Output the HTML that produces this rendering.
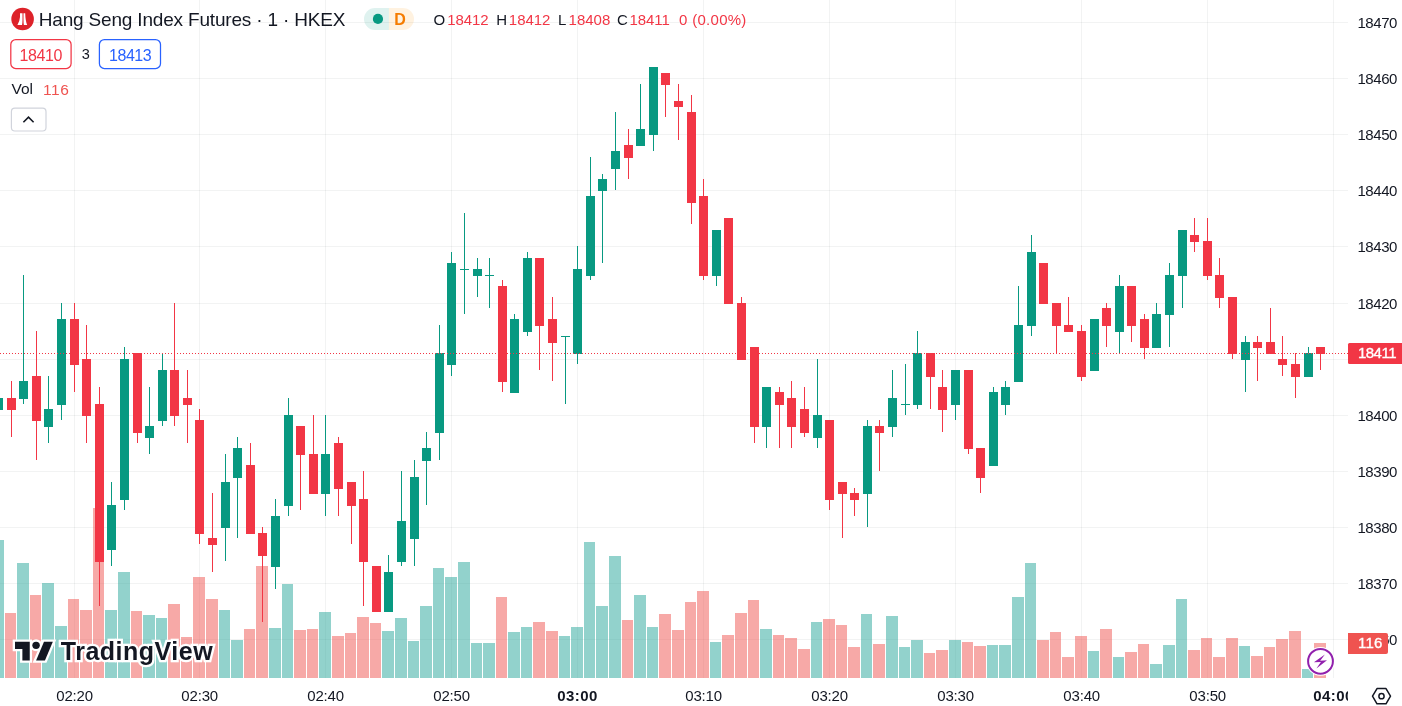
<!DOCTYPE html>
<html><head><meta charset="utf-8"><title>Hang Seng Index Futures</title>
<style>
html,body{margin:0;padding:0;background:#fff}
body{width:1402px;height:706px;position:relative;overflow:hidden;font-family:"Liberation Sans",sans-serif;color:#131722}
.t{position:absolute;white-space:nowrap;line-height:1}
</style></head><body>
<svg width="1402" height="706" viewBox="0 0 1402 706" style="position:absolute;left:0;top:0">
<g shape-rendering="crispEdges" fill="rgba(30,46,46,0.058)">
<rect x="0" y="639" width="1348" height="1"/>
<rect x="0" y="583" width="1348" height="1"/>
<rect x="0" y="527" width="1348" height="1"/>
<rect x="0" y="471" width="1348" height="1"/>
<rect x="0" y="415" width="1348" height="1"/>
<rect x="0" y="359" width="1348" height="1"/>
<rect x="0" y="303" width="1348" height="1"/>
<rect x="0" y="246" width="1348" height="1"/>
<rect x="0" y="190" width="1348" height="1"/>
<rect x="0" y="134" width="1348" height="1"/>
<rect x="0" y="78" width="1348" height="1"/>
<rect x="0" y="22" width="1348" height="1"/>
<rect x="74" y="0" width="1" height="678"/>
<rect x="199" y="0" width="1" height="678"/>
<rect x="325" y="0" width="1" height="678"/>
<rect x="451" y="0" width="1" height="678"/>
<rect x="577" y="0" width="1" height="678"/>
<rect x="703" y="0" width="1" height="678"/>
<rect x="829" y="0" width="1" height="678"/>
<rect x="955" y="0" width="1" height="678"/>
<rect x="1081" y="0" width="1" height="678"/>
<rect x="1207" y="0" width="1" height="678"/>
<rect x="1333" y="0" width="1" height="678"/>
</g>
<g shape-rendering="crispEdges">
<rect x="0" y="540" width="4" height="138" fill="rgba(38,166,154,0.5)"/>
<rect x="5" y="613" width="11" height="65" fill="rgba(239,83,80,0.5)"/>
<rect x="17" y="563" width="12" height="115" fill="rgba(38,166,154,0.5)"/>
<rect x="30" y="595" width="11" height="83" fill="rgba(239,83,80,0.5)"/>
<rect x="42" y="583" width="12" height="95" fill="rgba(38,166,154,0.5)"/>
<rect x="55" y="626" width="12" height="52" fill="rgba(38,166,154,0.5)"/>
<rect x="68" y="599" width="11" height="79" fill="rgba(239,83,80,0.5)"/>
<rect x="80" y="610" width="12" height="68" fill="rgba(239,83,80,0.5)"/>
<rect x="93" y="508" width="11" height="170" fill="rgba(239,83,80,0.5)"/>
<rect x="105" y="610" width="12" height="68" fill="rgba(38,166,154,0.5)"/>
<rect x="118" y="572" width="12" height="106" fill="rgba(38,166,154,0.5)"/>
<rect x="131" y="611" width="11" height="67" fill="rgba(239,83,80,0.5)"/>
<rect x="143" y="615" width="12" height="63" fill="rgba(38,166,154,0.5)"/>
<rect x="156" y="618" width="11" height="60" fill="rgba(38,166,154,0.5)"/>
<rect x="168" y="604" width="12" height="74" fill="rgba(239,83,80,0.5)"/>
<rect x="181" y="637" width="11" height="41" fill="rgba(239,83,80,0.5)"/>
<rect x="193" y="577" width="12" height="101" fill="rgba(239,83,80,0.5)"/>
<rect x="206" y="599" width="12" height="79" fill="rgba(239,83,80,0.5)"/>
<rect x="219" y="610" width="11" height="68" fill="rgba(38,166,154,0.5)"/>
<rect x="231" y="640" width="12" height="38" fill="rgba(38,166,154,0.5)"/>
<rect x="244" y="629" width="11" height="49" fill="rgba(239,83,80,0.5)"/>
<rect x="256" y="566" width="12" height="112" fill="rgba(239,83,80,0.5)"/>
<rect x="269" y="628" width="12" height="50" fill="rgba(38,166,154,0.5)"/>
<rect x="282" y="584" width="11" height="94" fill="rgba(38,166,154,0.5)"/>
<rect x="294" y="630" width="12" height="48" fill="rgba(239,83,80,0.5)"/>
<rect x="307" y="629" width="11" height="49" fill="rgba(239,83,80,0.5)"/>
<rect x="319" y="612" width="12" height="66" fill="rgba(38,166,154,0.5)"/>
<rect x="332" y="636" width="12" height="42" fill="rgba(239,83,80,0.5)"/>
<rect x="345" y="633" width="11" height="45" fill="rgba(239,83,80,0.5)"/>
<rect x="357" y="617" width="12" height="61" fill="rgba(239,83,80,0.5)"/>
<rect x="370" y="623" width="11" height="55" fill="rgba(239,83,80,0.5)"/>
<rect x="382" y="631" width="12" height="47" fill="rgba(38,166,154,0.5)"/>
<rect x="395" y="618" width="12" height="60" fill="rgba(38,166,154,0.5)"/>
<rect x="408" y="641" width="11" height="37" fill="rgba(38,166,154,0.5)"/>
<rect x="420" y="606" width="12" height="72" fill="rgba(38,166,154,0.5)"/>
<rect x="433" y="568" width="11" height="110" fill="rgba(38,166,154,0.5)"/>
<rect x="445" y="577" width="12" height="101" fill="rgba(38,166,154,0.5)"/>
<rect x="458" y="562" width="12" height="116" fill="rgba(38,166,154,0.5)"/>
<rect x="471" y="643" width="11" height="35" fill="rgba(38,166,154,0.5)"/>
<rect x="483" y="643" width="12" height="35" fill="rgba(38,166,154,0.5)"/>
<rect x="496" y="597" width="11" height="81" fill="rgba(239,83,80,0.5)"/>
<rect x="508" y="632" width="12" height="46" fill="rgba(38,166,154,0.5)"/>
<rect x="521" y="627" width="11" height="51" fill="rgba(38,166,154,0.5)"/>
<rect x="533" y="622" width="12" height="56" fill="rgba(239,83,80,0.5)"/>
<rect x="546" y="631" width="12" height="47" fill="rgba(239,83,80,0.5)"/>
<rect x="559" y="636" width="11" height="42" fill="rgba(38,166,154,0.5)"/>
<rect x="571" y="627" width="12" height="51" fill="rgba(38,166,154,0.5)"/>
<rect x="584" y="542" width="11" height="136" fill="rgba(38,166,154,0.5)"/>
<rect x="596" y="606" width="12" height="72" fill="rgba(38,166,154,0.5)"/>
<rect x="609" y="556" width="12" height="122" fill="rgba(38,166,154,0.5)"/>
<rect x="622" y="620" width="11" height="58" fill="rgba(239,83,80,0.5)"/>
<rect x="634" y="595" width="12" height="83" fill="rgba(38,166,154,0.5)"/>
<rect x="647" y="627" width="11" height="51" fill="rgba(38,166,154,0.5)"/>
<rect x="659" y="614" width="12" height="64" fill="rgba(239,83,80,0.5)"/>
<rect x="672" y="630" width="12" height="48" fill="rgba(239,83,80,0.5)"/>
<rect x="685" y="602" width="11" height="76" fill="rgba(239,83,80,0.5)"/>
<rect x="697" y="591" width="12" height="87" fill="rgba(239,83,80,0.5)"/>
<rect x="710" y="642" width="11" height="36" fill="rgba(38,166,154,0.5)"/>
<rect x="722" y="635" width="12" height="43" fill="rgba(239,83,80,0.5)"/>
<rect x="735" y="613" width="12" height="65" fill="rgba(239,83,80,0.5)"/>
<rect x="748" y="600" width="11" height="78" fill="rgba(239,83,80,0.5)"/>
<rect x="760" y="629" width="12" height="49" fill="rgba(38,166,154,0.5)"/>
<rect x="773" y="635" width="11" height="43" fill="rgba(239,83,80,0.5)"/>
<rect x="785" y="638" width="12" height="40" fill="rgba(239,83,80,0.5)"/>
<rect x="798" y="649" width="12" height="29" fill="rgba(239,83,80,0.5)"/>
<rect x="811" y="622" width="11" height="56" fill="rgba(38,166,154,0.5)"/>
<rect x="823" y="619" width="12" height="59" fill="rgba(239,83,80,0.5)"/>
<rect x="836" y="625" width="11" height="53" fill="rgba(239,83,80,0.5)"/>
<rect x="848" y="647" width="12" height="31" fill="rgba(239,83,80,0.5)"/>
<rect x="861" y="614" width="11" height="64" fill="rgba(38,166,154,0.5)"/>
<rect x="873" y="644" width="12" height="34" fill="rgba(239,83,80,0.5)"/>
<rect x="886" y="616" width="12" height="62" fill="rgba(38,166,154,0.5)"/>
<rect x="899" y="647" width="11" height="31" fill="rgba(38,166,154,0.5)"/>
<rect x="911" y="640" width="12" height="38" fill="rgba(38,166,154,0.5)"/>
<rect x="924" y="653" width="11" height="25" fill="rgba(239,83,80,0.5)"/>
<rect x="936" y="650" width="12" height="28" fill="rgba(239,83,80,0.5)"/>
<rect x="949" y="640" width="12" height="38" fill="rgba(38,166,154,0.5)"/>
<rect x="962" y="642" width="11" height="36" fill="rgba(239,83,80,0.5)"/>
<rect x="974" y="646" width="12" height="32" fill="rgba(239,83,80,0.5)"/>
<rect x="987" y="645" width="11" height="33" fill="rgba(38,166,154,0.5)"/>
<rect x="999" y="645" width="12" height="33" fill="rgba(38,166,154,0.5)"/>
<rect x="1012" y="597" width="12" height="81" fill="rgba(38,166,154,0.5)"/>
<rect x="1025" y="563" width="11" height="115" fill="rgba(38,166,154,0.5)"/>
<rect x="1037" y="640" width="12" height="38" fill="rgba(239,83,80,0.5)"/>
<rect x="1050" y="632" width="11" height="46" fill="rgba(239,83,80,0.5)"/>
<rect x="1062" y="657" width="12" height="21" fill="rgba(239,83,80,0.5)"/>
<rect x="1075" y="636" width="12" height="42" fill="rgba(239,83,80,0.5)"/>
<rect x="1088" y="651" width="11" height="27" fill="rgba(38,166,154,0.5)"/>
<rect x="1100" y="629" width="12" height="49" fill="rgba(239,83,80,0.5)"/>
<rect x="1113" y="657" width="11" height="21" fill="rgba(38,166,154,0.5)"/>
<rect x="1125" y="652" width="12" height="26" fill="rgba(239,83,80,0.5)"/>
<rect x="1138" y="644" width="11" height="34" fill="rgba(239,83,80,0.5)"/>
<rect x="1150" y="664" width="12" height="14" fill="rgba(38,166,154,0.5)"/>
<rect x="1163" y="645" width="12" height="33" fill="rgba(38,166,154,0.5)"/>
<rect x="1176" y="599" width="11" height="79" fill="rgba(38,166,154,0.5)"/>
<rect x="1188" y="650" width="12" height="28" fill="rgba(239,83,80,0.5)"/>
<rect x="1201" y="638" width="11" height="40" fill="rgba(239,83,80,0.5)"/>
<rect x="1213" y="657" width="12" height="21" fill="rgba(239,83,80,0.5)"/>
<rect x="1226" y="638" width="12" height="40" fill="rgba(239,83,80,0.5)"/>
<rect x="1239" y="646" width="11" height="32" fill="rgba(38,166,154,0.5)"/>
<rect x="1251" y="656" width="12" height="22" fill="rgba(239,83,80,0.5)"/>
<rect x="1264" y="647" width="11" height="31" fill="rgba(239,83,80,0.5)"/>
<rect x="1276" y="639" width="12" height="39" fill="rgba(239,83,80,0.5)"/>
<rect x="1289" y="631" width="12" height="47" fill="rgba(239,83,80,0.5)"/>
<rect x="1302" y="669" width="11" height="9" fill="rgba(38,166,154,0.5)"/>
<rect x="1314" y="643" width="12" height="35" fill="rgba(239,83,80,0.5)"/>
</g>
<g shape-rendering="crispEdges">
<rect x="-2" y="398" width="1" height="11" fill="#089981"/>
<rect x="-6" y="398" width="9" height="12" fill="#089981"/>
<rect x="11" y="381" width="1" height="56" fill="#F23645"/>
<rect x="7" y="398" width="9" height="12" fill="#F23645"/>
<rect x="23" y="275" width="1" height="129" fill="#089981"/>
<rect x="19" y="381" width="9" height="18" fill="#089981"/>
<rect x="36" y="331" width="1" height="129" fill="#F23645"/>
<rect x="32" y="376" width="9" height="45" fill="#F23645"/>
<rect x="48" y="376" width="1" height="67" fill="#089981"/>
<rect x="44" y="409" width="9" height="18" fill="#089981"/>
<rect x="61" y="303" width="1" height="117" fill="#089981"/>
<rect x="57" y="319" width="9" height="86" fill="#089981"/>
<rect x="74" y="303" width="1" height="89" fill="#F23645"/>
<rect x="70" y="319" width="9" height="46" fill="#F23645"/>
<rect x="86" y="325" width="1" height="118" fill="#F23645"/>
<rect x="82" y="359" width="9" height="57" fill="#F23645"/>
<rect x="99" y="387" width="1" height="219" fill="#F23645"/>
<rect x="95" y="404" width="9" height="158" fill="#F23645"/>
<rect x="111" y="482" width="1" height="84" fill="#089981"/>
<rect x="107" y="505" width="9" height="45" fill="#089981"/>
<rect x="124" y="347" width="1" height="163" fill="#089981"/>
<rect x="120" y="359" width="9" height="141" fill="#089981"/>
<rect x="137" y="353" width="1" height="90" fill="#F23645"/>
<rect x="133" y="353" width="9" height="80" fill="#F23645"/>
<rect x="149" y="387" width="1" height="67" fill="#089981"/>
<rect x="145" y="426" width="9" height="12" fill="#089981"/>
<rect x="162" y="353" width="1" height="73" fill="#089981"/>
<rect x="158" y="370" width="9" height="51" fill="#089981"/>
<rect x="174" y="303" width="1" height="123" fill="#F23645"/>
<rect x="170" y="370" width="9" height="46" fill="#F23645"/>
<rect x="187" y="370" width="1" height="73" fill="#F23645"/>
<rect x="183" y="398" width="9" height="7" fill="#F23645"/>
<rect x="199" y="409" width="1" height="135" fill="#F23645"/>
<rect x="195" y="420" width="9" height="114" fill="#F23645"/>
<rect x="212" y="493" width="1" height="79" fill="#F23645"/>
<rect x="208" y="538" width="9" height="7" fill="#F23645"/>
<rect x="225" y="454" width="1" height="107" fill="#089981"/>
<rect x="221" y="482" width="9" height="46" fill="#089981"/>
<rect x="237" y="437" width="1" height="101" fill="#089981"/>
<rect x="233" y="448" width="9" height="30" fill="#089981"/>
<rect x="250" y="443" width="1" height="90" fill="#F23645"/>
<rect x="246" y="465" width="9" height="69" fill="#F23645"/>
<rect x="262" y="527" width="1" height="95" fill="#F23645"/>
<rect x="258" y="533" width="9" height="23" fill="#F23645"/>
<rect x="275" y="499" width="1" height="90" fill="#089981"/>
<rect x="271" y="516" width="9" height="51" fill="#089981"/>
<rect x="288" y="398" width="1" height="118" fill="#089981"/>
<rect x="284" y="415" width="9" height="91" fill="#089981"/>
<rect x="300" y="426" width="1" height="84" fill="#F23645"/>
<rect x="296" y="426" width="9" height="29" fill="#F23645"/>
<rect x="313" y="415" width="1" height="78" fill="#F23645"/>
<rect x="309" y="454" width="9" height="40" fill="#F23645"/>
<rect x="325" y="415" width="1" height="101" fill="#089981"/>
<rect x="321" y="454" width="9" height="40" fill="#089981"/>
<rect x="338" y="437" width="1" height="79" fill="#F23645"/>
<rect x="334" y="443" width="9" height="46" fill="#F23645"/>
<rect x="351" y="482" width="1" height="62" fill="#F23645"/>
<rect x="347" y="482" width="9" height="24" fill="#F23645"/>
<rect x="363" y="471" width="1" height="135" fill="#F23645"/>
<rect x="359" y="499" width="9" height="63" fill="#F23645"/>
<rect x="376" y="566" width="1" height="45" fill="#F23645"/>
<rect x="372" y="566" width="9" height="46" fill="#F23645"/>
<rect x="388" y="555" width="1" height="56" fill="#089981"/>
<rect x="384" y="572" width="9" height="40" fill="#089981"/>
<rect x="401" y="471" width="1" height="95" fill="#089981"/>
<rect x="397" y="521" width="9" height="41" fill="#089981"/>
<rect x="414" y="460" width="1" height="106" fill="#089981"/>
<rect x="410" y="477" width="9" height="62" fill="#089981"/>
<rect x="426" y="432" width="1" height="73" fill="#089981"/>
<rect x="422" y="448" width="9" height="13" fill="#089981"/>
<rect x="439" y="325" width="1" height="135" fill="#089981"/>
<rect x="435" y="353" width="9" height="80" fill="#089981"/>
<rect x="451" y="252" width="1" height="124" fill="#089981"/>
<rect x="447" y="263" width="9" height="102" fill="#089981"/>
<rect x="464" y="213" width="1" height="101" fill="#089981"/>
<rect x="460" y="269" width="9" height="1" fill="#089981"/>
<rect x="477" y="258" width="1" height="39" fill="#089981"/>
<rect x="473" y="269" width="9" height="7" fill="#089981"/>
<rect x="489" y="258" width="1" height="50" fill="#089981"/>
<rect x="485" y="275" width="9" height="1" fill="#089981"/>
<rect x="502" y="280" width="1" height="112" fill="#F23645"/>
<rect x="498" y="286" width="9" height="96" fill="#F23645"/>
<rect x="514" y="314" width="1" height="78" fill="#089981"/>
<rect x="510" y="319" width="9" height="74" fill="#089981"/>
<rect x="527" y="252" width="1" height="84" fill="#089981"/>
<rect x="523" y="258" width="9" height="74" fill="#089981"/>
<rect x="539" y="258" width="1" height="112" fill="#F23645"/>
<rect x="535" y="258" width="9" height="68" fill="#F23645"/>
<rect x="552" y="297" width="1" height="84" fill="#F23645"/>
<rect x="548" y="319" width="9" height="24" fill="#F23645"/>
<rect x="565" y="336" width="1" height="68" fill="#089981"/>
<rect x="561" y="336" width="9" height="1" fill="#089981"/>
<rect x="577" y="246" width="1" height="118" fill="#089981"/>
<rect x="573" y="269" width="9" height="85" fill="#089981"/>
<rect x="590" y="157" width="1" height="123" fill="#089981"/>
<rect x="586" y="196" width="9" height="80" fill="#089981"/>
<rect x="602" y="174" width="1" height="89" fill="#089981"/>
<rect x="598" y="179" width="9" height="12" fill="#089981"/>
<rect x="615" y="112" width="1" height="78" fill="#089981"/>
<rect x="611" y="151" width="9" height="18" fill="#089981"/>
<rect x="628" y="129" width="1" height="50" fill="#F23645"/>
<rect x="624" y="145" width="9" height="13" fill="#F23645"/>
<rect x="640" y="84" width="1" height="61" fill="#089981"/>
<rect x="636" y="129" width="9" height="17" fill="#089981"/>
<rect x="653" y="67" width="1" height="84" fill="#089981"/>
<rect x="649" y="67" width="9" height="68" fill="#089981"/>
<rect x="665" y="73" width="1" height="44" fill="#F23645"/>
<rect x="661" y="73" width="9" height="12" fill="#F23645"/>
<rect x="678" y="84" width="1" height="56" fill="#F23645"/>
<rect x="674" y="101" width="9" height="6" fill="#F23645"/>
<rect x="691" y="95" width="1" height="129" fill="#F23645"/>
<rect x="687" y="112" width="9" height="91" fill="#F23645"/>
<rect x="703" y="179" width="1" height="101" fill="#F23645"/>
<rect x="699" y="196" width="9" height="80" fill="#F23645"/>
<rect x="716" y="230" width="1" height="56" fill="#089981"/>
<rect x="712" y="230" width="9" height="46" fill="#089981"/>
<rect x="728" y="218" width="1" height="85" fill="#F23645"/>
<rect x="724" y="218" width="9" height="86" fill="#F23645"/>
<rect x="741" y="297" width="1" height="62" fill="#F23645"/>
<rect x="737" y="303" width="9" height="57" fill="#F23645"/>
<rect x="754" y="347" width="1" height="96" fill="#F23645"/>
<rect x="750" y="347" width="9" height="80" fill="#F23645"/>
<rect x="766" y="387" width="1" height="61" fill="#089981"/>
<rect x="762" y="387" width="9" height="40" fill="#089981"/>
<rect x="779" y="387" width="1" height="61" fill="#F23645"/>
<rect x="775" y="392" width="9" height="13" fill="#F23645"/>
<rect x="791" y="381" width="1" height="67" fill="#F23645"/>
<rect x="787" y="398" width="9" height="29" fill="#F23645"/>
<rect x="804" y="387" width="1" height="50" fill="#F23645"/>
<rect x="800" y="409" width="9" height="24" fill="#F23645"/>
<rect x="817" y="359" width="1" height="89" fill="#089981"/>
<rect x="813" y="415" width="9" height="23" fill="#089981"/>
<rect x="829" y="420" width="1" height="90" fill="#F23645"/>
<rect x="825" y="420" width="9" height="80" fill="#F23645"/>
<rect x="842" y="482" width="1" height="56" fill="#F23645"/>
<rect x="838" y="482" width="9" height="12" fill="#F23645"/>
<rect x="854" y="488" width="1" height="28" fill="#F23645"/>
<rect x="850" y="493" width="9" height="7" fill="#F23645"/>
<rect x="867" y="420" width="1" height="107" fill="#089981"/>
<rect x="863" y="426" width="9" height="68" fill="#089981"/>
<rect x="879" y="420" width="1" height="51" fill="#F23645"/>
<rect x="875" y="426" width="9" height="7" fill="#F23645"/>
<rect x="892" y="370" width="1" height="67" fill="#089981"/>
<rect x="888" y="398" width="9" height="29" fill="#089981"/>
<rect x="905" y="364" width="1" height="51" fill="#089981"/>
<rect x="901" y="404" width="9" height="1" fill="#089981"/>
<rect x="917" y="331" width="1" height="78" fill="#089981"/>
<rect x="913" y="353" width="9" height="52" fill="#089981"/>
<rect x="930" y="353" width="1" height="56" fill="#F23645"/>
<rect x="926" y="353" width="9" height="24" fill="#F23645"/>
<rect x="942" y="370" width="1" height="62" fill="#F23645"/>
<rect x="938" y="387" width="9" height="23" fill="#F23645"/>
<rect x="955" y="370" width="1" height="50" fill="#089981"/>
<rect x="951" y="370" width="9" height="35" fill="#089981"/>
<rect x="968" y="370" width="1" height="84" fill="#F23645"/>
<rect x="964" y="370" width="9" height="79" fill="#F23645"/>
<rect x="980" y="448" width="1" height="45" fill="#F23645"/>
<rect x="976" y="448" width="9" height="30" fill="#F23645"/>
<rect x="993" y="387" width="1" height="78" fill="#089981"/>
<rect x="989" y="392" width="9" height="74" fill="#089981"/>
<rect x="1005" y="381" width="1" height="34" fill="#089981"/>
<rect x="1001" y="387" width="9" height="18" fill="#089981"/>
<rect x="1018" y="286" width="1" height="95" fill="#089981"/>
<rect x="1014" y="325" width="9" height="57" fill="#089981"/>
<rect x="1031" y="235" width="1" height="101" fill="#089981"/>
<rect x="1027" y="252" width="9" height="74" fill="#089981"/>
<rect x="1043" y="263" width="1" height="40" fill="#F23645"/>
<rect x="1039" y="263" width="9" height="41" fill="#F23645"/>
<rect x="1056" y="303" width="1" height="50" fill="#F23645"/>
<rect x="1052" y="303" width="9" height="23" fill="#F23645"/>
<rect x="1068" y="297" width="1" height="34" fill="#F23645"/>
<rect x="1064" y="325" width="9" height="7" fill="#F23645"/>
<rect x="1081" y="325" width="1" height="56" fill="#F23645"/>
<rect x="1077" y="331" width="9" height="46" fill="#F23645"/>
<rect x="1094" y="319" width="1" height="51" fill="#089981"/>
<rect x="1090" y="319" width="9" height="52" fill="#089981"/>
<rect x="1106" y="303" width="1" height="44" fill="#F23645"/>
<rect x="1102" y="308" width="9" height="18" fill="#F23645"/>
<rect x="1119" y="275" width="1" height="78" fill="#089981"/>
<rect x="1115" y="286" width="9" height="46" fill="#089981"/>
<rect x="1131" y="286" width="1" height="56" fill="#F23645"/>
<rect x="1127" y="286" width="9" height="40" fill="#F23645"/>
<rect x="1144" y="314" width="1" height="45" fill="#F23645"/>
<rect x="1140" y="319" width="9" height="29" fill="#F23645"/>
<rect x="1156" y="303" width="1" height="44" fill="#089981"/>
<rect x="1152" y="314" width="9" height="34" fill="#089981"/>
<rect x="1169" y="263" width="1" height="84" fill="#089981"/>
<rect x="1165" y="275" width="9" height="40" fill="#089981"/>
<rect x="1182" y="230" width="1" height="78" fill="#089981"/>
<rect x="1178" y="230" width="9" height="46" fill="#089981"/>
<rect x="1194" y="218" width="1" height="34" fill="#F23645"/>
<rect x="1190" y="235" width="9" height="7" fill="#F23645"/>
<rect x="1207" y="218" width="1" height="62" fill="#F23645"/>
<rect x="1203" y="241" width="9" height="35" fill="#F23645"/>
<rect x="1219" y="258" width="1" height="50" fill="#F23645"/>
<rect x="1215" y="275" width="9" height="23" fill="#F23645"/>
<rect x="1232" y="297" width="1" height="62" fill="#F23645"/>
<rect x="1228" y="297" width="9" height="57" fill="#F23645"/>
<rect x="1245" y="336" width="1" height="56" fill="#089981"/>
<rect x="1241" y="342" width="9" height="18" fill="#089981"/>
<rect x="1257" y="336" width="1" height="45" fill="#F23645"/>
<rect x="1253" y="342" width="9" height="6" fill="#F23645"/>
<rect x="1270" y="308" width="1" height="45" fill="#F23645"/>
<rect x="1266" y="342" width="9" height="12" fill="#F23645"/>
<rect x="1282" y="336" width="1" height="40" fill="#F23645"/>
<rect x="1278" y="359" width="9" height="6" fill="#F23645"/>
<rect x="1295" y="353" width="1" height="45" fill="#F23645"/>
<rect x="1291" y="364" width="9" height="13" fill="#F23645"/>
<rect x="1308" y="347" width="1" height="29" fill="#089981"/>
<rect x="1304" y="353" width="9" height="24" fill="#089981"/>
<rect x="1320" y="347" width="1" height="23" fill="#F23645"/>
<rect x="1316" y="347" width="9" height="7" fill="#F23645"/>
</g>
<g shape-rendering="crispEdges" fill="#F23645">
<rect x="0" y="353" width="1" height="1"/>
<rect x="3" y="353" width="1" height="1"/>
<rect x="6" y="353" width="1" height="1"/>
<rect x="9" y="353" width="1" height="1"/>
<rect x="12" y="353" width="1" height="1"/>
<rect x="15" y="353" width="1" height="1"/>
<rect x="18" y="353" width="1" height="1"/>
<rect x="21" y="353" width="1" height="1"/>
<rect x="24" y="353" width="1" height="1"/>
<rect x="27" y="353" width="1" height="1"/>
<rect x="30" y="353" width="1" height="1"/>
<rect x="33" y="353" width="1" height="1"/>
<rect x="36" y="353" width="1" height="1"/>
<rect x="39" y="353" width="1" height="1"/>
<rect x="42" y="353" width="1" height="1"/>
<rect x="45" y="353" width="1" height="1"/>
<rect x="48" y="353" width="1" height="1"/>
<rect x="51" y="353" width="1" height="1"/>
<rect x="54" y="353" width="1" height="1"/>
<rect x="57" y="353" width="1" height="1"/>
<rect x="60" y="353" width="1" height="1"/>
<rect x="63" y="353" width="1" height="1"/>
<rect x="66" y="353" width="1" height="1"/>
<rect x="69" y="353" width="1" height="1"/>
<rect x="72" y="353" width="1" height="1"/>
<rect x="75" y="353" width="1" height="1"/>
<rect x="78" y="353" width="1" height="1"/>
<rect x="81" y="353" width="1" height="1"/>
<rect x="84" y="353" width="1" height="1"/>
<rect x="87" y="353" width="1" height="1"/>
<rect x="90" y="353" width="1" height="1"/>
<rect x="93" y="353" width="1" height="1"/>
<rect x="96" y="353" width="1" height="1"/>
<rect x="99" y="353" width="1" height="1"/>
<rect x="102" y="353" width="1" height="1"/>
<rect x="105" y="353" width="1" height="1"/>
<rect x="108" y="353" width="1" height="1"/>
<rect x="111" y="353" width="1" height="1"/>
<rect x="114" y="353" width="1" height="1"/>
<rect x="117" y="353" width="1" height="1"/>
<rect x="120" y="353" width="1" height="1"/>
<rect x="123" y="353" width="1" height="1"/>
<rect x="126" y="353" width="1" height="1"/>
<rect x="129" y="353" width="1" height="1"/>
<rect x="132" y="353" width="1" height="1"/>
<rect x="135" y="353" width="1" height="1"/>
<rect x="138" y="353" width="1" height="1"/>
<rect x="141" y="353" width="1" height="1"/>
<rect x="144" y="353" width="1" height="1"/>
<rect x="147" y="353" width="1" height="1"/>
<rect x="150" y="353" width="1" height="1"/>
<rect x="153" y="353" width="1" height="1"/>
<rect x="156" y="353" width="1" height="1"/>
<rect x="159" y="353" width="1" height="1"/>
<rect x="162" y="353" width="1" height="1"/>
<rect x="165" y="353" width="1" height="1"/>
<rect x="168" y="353" width="1" height="1"/>
<rect x="171" y="353" width="1" height="1"/>
<rect x="174" y="353" width="1" height="1"/>
<rect x="177" y="353" width="1" height="1"/>
<rect x="180" y="353" width="1" height="1"/>
<rect x="183" y="353" width="1" height="1"/>
<rect x="186" y="353" width="1" height="1"/>
<rect x="189" y="353" width="1" height="1"/>
<rect x="192" y="353" width="1" height="1"/>
<rect x="195" y="353" width="1" height="1"/>
<rect x="198" y="353" width="1" height="1"/>
<rect x="201" y="353" width="1" height="1"/>
<rect x="204" y="353" width="1" height="1"/>
<rect x="207" y="353" width="1" height="1"/>
<rect x="210" y="353" width="1" height="1"/>
<rect x="213" y="353" width="1" height="1"/>
<rect x="216" y="353" width="1" height="1"/>
<rect x="219" y="353" width="1" height="1"/>
<rect x="222" y="353" width="1" height="1"/>
<rect x="225" y="353" width="1" height="1"/>
<rect x="228" y="353" width="1" height="1"/>
<rect x="231" y="353" width="1" height="1"/>
<rect x="234" y="353" width="1" height="1"/>
<rect x="237" y="353" width="1" height="1"/>
<rect x="240" y="353" width="1" height="1"/>
<rect x="243" y="353" width="1" height="1"/>
<rect x="246" y="353" width="1" height="1"/>
<rect x="249" y="353" width="1" height="1"/>
<rect x="252" y="353" width="1" height="1"/>
<rect x="255" y="353" width="1" height="1"/>
<rect x="258" y="353" width="1" height="1"/>
<rect x="261" y="353" width="1" height="1"/>
<rect x="264" y="353" width="1" height="1"/>
<rect x="267" y="353" width="1" height="1"/>
<rect x="270" y="353" width="1" height="1"/>
<rect x="273" y="353" width="1" height="1"/>
<rect x="276" y="353" width="1" height="1"/>
<rect x="279" y="353" width="1" height="1"/>
<rect x="282" y="353" width="1" height="1"/>
<rect x="285" y="353" width="1" height="1"/>
<rect x="288" y="353" width="1" height="1"/>
<rect x="291" y="353" width="1" height="1"/>
<rect x="294" y="353" width="1" height="1"/>
<rect x="297" y="353" width="1" height="1"/>
<rect x="300" y="353" width="1" height="1"/>
<rect x="303" y="353" width="1" height="1"/>
<rect x="306" y="353" width="1" height="1"/>
<rect x="309" y="353" width="1" height="1"/>
<rect x="312" y="353" width="1" height="1"/>
<rect x="315" y="353" width="1" height="1"/>
<rect x="318" y="353" width="1" height="1"/>
<rect x="321" y="353" width="1" height="1"/>
<rect x="324" y="353" width="1" height="1"/>
<rect x="327" y="353" width="1" height="1"/>
<rect x="330" y="353" width="1" height="1"/>
<rect x="333" y="353" width="1" height="1"/>
<rect x="336" y="353" width="1" height="1"/>
<rect x="339" y="353" width="1" height="1"/>
<rect x="342" y="353" width="1" height="1"/>
<rect x="345" y="353" width="1" height="1"/>
<rect x="348" y="353" width="1" height="1"/>
<rect x="351" y="353" width="1" height="1"/>
<rect x="354" y="353" width="1" height="1"/>
<rect x="357" y="353" width="1" height="1"/>
<rect x="360" y="353" width="1" height="1"/>
<rect x="363" y="353" width="1" height="1"/>
<rect x="366" y="353" width="1" height="1"/>
<rect x="369" y="353" width="1" height="1"/>
<rect x="372" y="353" width="1" height="1"/>
<rect x="375" y="353" width="1" height="1"/>
<rect x="378" y="353" width="1" height="1"/>
<rect x="381" y="353" width="1" height="1"/>
<rect x="384" y="353" width="1" height="1"/>
<rect x="387" y="353" width="1" height="1"/>
<rect x="390" y="353" width="1" height="1"/>
<rect x="393" y="353" width="1" height="1"/>
<rect x="396" y="353" width="1" height="1"/>
<rect x="399" y="353" width="1" height="1"/>
<rect x="402" y="353" width="1" height="1"/>
<rect x="405" y="353" width="1" height="1"/>
<rect x="408" y="353" width="1" height="1"/>
<rect x="411" y="353" width="1" height="1"/>
<rect x="414" y="353" width="1" height="1"/>
<rect x="417" y="353" width="1" height="1"/>
<rect x="420" y="353" width="1" height="1"/>
<rect x="423" y="353" width="1" height="1"/>
<rect x="426" y="353" width="1" height="1"/>
<rect x="429" y="353" width="1" height="1"/>
<rect x="432" y="353" width="1" height="1"/>
<rect x="435" y="353" width="1" height="1"/>
<rect x="438" y="353" width="1" height="1"/>
<rect x="441" y="353" width="1" height="1"/>
<rect x="444" y="353" width="1" height="1"/>
<rect x="447" y="353" width="1" height="1"/>
<rect x="450" y="353" width="1" height="1"/>
<rect x="453" y="353" width="1" height="1"/>
<rect x="456" y="353" width="1" height="1"/>
<rect x="459" y="353" width="1" height="1"/>
<rect x="462" y="353" width="1" height="1"/>
<rect x="465" y="353" width="1" height="1"/>
<rect x="468" y="353" width="1" height="1"/>
<rect x="471" y="353" width="1" height="1"/>
<rect x="474" y="353" width="1" height="1"/>
<rect x="477" y="353" width="1" height="1"/>
<rect x="480" y="353" width="1" height="1"/>
<rect x="483" y="353" width="1" height="1"/>
<rect x="486" y="353" width="1" height="1"/>
<rect x="489" y="353" width="1" height="1"/>
<rect x="492" y="353" width="1" height="1"/>
<rect x="495" y="353" width="1" height="1"/>
<rect x="498" y="353" width="1" height="1"/>
<rect x="501" y="353" width="1" height="1"/>
<rect x="504" y="353" width="1" height="1"/>
<rect x="507" y="353" width="1" height="1"/>
<rect x="510" y="353" width="1" height="1"/>
<rect x="513" y="353" width="1" height="1"/>
<rect x="516" y="353" width="1" height="1"/>
<rect x="519" y="353" width="1" height="1"/>
<rect x="522" y="353" width="1" height="1"/>
<rect x="525" y="353" width="1" height="1"/>
<rect x="528" y="353" width="1" height="1"/>
<rect x="531" y="353" width="1" height="1"/>
<rect x="534" y="353" width="1" height="1"/>
<rect x="537" y="353" width="1" height="1"/>
<rect x="540" y="353" width="1" height="1"/>
<rect x="543" y="353" width="1" height="1"/>
<rect x="546" y="353" width="1" height="1"/>
<rect x="549" y="353" width="1" height="1"/>
<rect x="552" y="353" width="1" height="1"/>
<rect x="555" y="353" width="1" height="1"/>
<rect x="558" y="353" width="1" height="1"/>
<rect x="561" y="353" width="1" height="1"/>
<rect x="564" y="353" width="1" height="1"/>
<rect x="567" y="353" width="1" height="1"/>
<rect x="570" y="353" width="1" height="1"/>
<rect x="573" y="353" width="1" height="1"/>
<rect x="576" y="353" width="1" height="1"/>
<rect x="579" y="353" width="1" height="1"/>
<rect x="582" y="353" width="1" height="1"/>
<rect x="585" y="353" width="1" height="1"/>
<rect x="588" y="353" width="1" height="1"/>
<rect x="591" y="353" width="1" height="1"/>
<rect x="594" y="353" width="1" height="1"/>
<rect x="597" y="353" width="1" height="1"/>
<rect x="600" y="353" width="1" height="1"/>
<rect x="603" y="353" width="1" height="1"/>
<rect x="606" y="353" width="1" height="1"/>
<rect x="609" y="353" width="1" height="1"/>
<rect x="612" y="353" width="1" height="1"/>
<rect x="615" y="353" width="1" height="1"/>
<rect x="618" y="353" width="1" height="1"/>
<rect x="621" y="353" width="1" height="1"/>
<rect x="624" y="353" width="1" height="1"/>
<rect x="627" y="353" width="1" height="1"/>
<rect x="630" y="353" width="1" height="1"/>
<rect x="633" y="353" width="1" height="1"/>
<rect x="636" y="353" width="1" height="1"/>
<rect x="639" y="353" width="1" height="1"/>
<rect x="642" y="353" width="1" height="1"/>
<rect x="645" y="353" width="1" height="1"/>
<rect x="648" y="353" width="1" height="1"/>
<rect x="651" y="353" width="1" height="1"/>
<rect x="654" y="353" width="1" height="1"/>
<rect x="657" y="353" width="1" height="1"/>
<rect x="660" y="353" width="1" height="1"/>
<rect x="663" y="353" width="1" height="1"/>
<rect x="666" y="353" width="1" height="1"/>
<rect x="669" y="353" width="1" height="1"/>
<rect x="672" y="353" width="1" height="1"/>
<rect x="675" y="353" width="1" height="1"/>
<rect x="678" y="353" width="1" height="1"/>
<rect x="681" y="353" width="1" height="1"/>
<rect x="684" y="353" width="1" height="1"/>
<rect x="687" y="353" width="1" height="1"/>
<rect x="690" y="353" width="1" height="1"/>
<rect x="693" y="353" width="1" height="1"/>
<rect x="696" y="353" width="1" height="1"/>
<rect x="699" y="353" width="1" height="1"/>
<rect x="702" y="353" width="1" height="1"/>
<rect x="705" y="353" width="1" height="1"/>
<rect x="708" y="353" width="1" height="1"/>
<rect x="711" y="353" width="1" height="1"/>
<rect x="714" y="353" width="1" height="1"/>
<rect x="717" y="353" width="1" height="1"/>
<rect x="720" y="353" width="1" height="1"/>
<rect x="723" y="353" width="1" height="1"/>
<rect x="726" y="353" width="1" height="1"/>
<rect x="729" y="353" width="1" height="1"/>
<rect x="732" y="353" width="1" height="1"/>
<rect x="735" y="353" width="1" height="1"/>
<rect x="738" y="353" width="1" height="1"/>
<rect x="741" y="353" width="1" height="1"/>
<rect x="744" y="353" width="1" height="1"/>
<rect x="747" y="353" width="1" height="1"/>
<rect x="750" y="353" width="1" height="1"/>
<rect x="753" y="353" width="1" height="1"/>
<rect x="756" y="353" width="1" height="1"/>
<rect x="759" y="353" width="1" height="1"/>
<rect x="762" y="353" width="1" height="1"/>
<rect x="765" y="353" width="1" height="1"/>
<rect x="768" y="353" width="1" height="1"/>
<rect x="771" y="353" width="1" height="1"/>
<rect x="774" y="353" width="1" height="1"/>
<rect x="777" y="353" width="1" height="1"/>
<rect x="780" y="353" width="1" height="1"/>
<rect x="783" y="353" width="1" height="1"/>
<rect x="786" y="353" width="1" height="1"/>
<rect x="789" y="353" width="1" height="1"/>
<rect x="792" y="353" width="1" height="1"/>
<rect x="795" y="353" width="1" height="1"/>
<rect x="798" y="353" width="1" height="1"/>
<rect x="801" y="353" width="1" height="1"/>
<rect x="804" y="353" width="1" height="1"/>
<rect x="807" y="353" width="1" height="1"/>
<rect x="810" y="353" width="1" height="1"/>
<rect x="813" y="353" width="1" height="1"/>
<rect x="816" y="353" width="1" height="1"/>
<rect x="819" y="353" width="1" height="1"/>
<rect x="822" y="353" width="1" height="1"/>
<rect x="825" y="353" width="1" height="1"/>
<rect x="828" y="353" width="1" height="1"/>
<rect x="831" y="353" width="1" height="1"/>
<rect x="834" y="353" width="1" height="1"/>
<rect x="837" y="353" width="1" height="1"/>
<rect x="840" y="353" width="1" height="1"/>
<rect x="843" y="353" width="1" height="1"/>
<rect x="846" y="353" width="1" height="1"/>
<rect x="849" y="353" width="1" height="1"/>
<rect x="852" y="353" width="1" height="1"/>
<rect x="855" y="353" width="1" height="1"/>
<rect x="858" y="353" width="1" height="1"/>
<rect x="861" y="353" width="1" height="1"/>
<rect x="864" y="353" width="1" height="1"/>
<rect x="867" y="353" width="1" height="1"/>
<rect x="870" y="353" width="1" height="1"/>
<rect x="873" y="353" width="1" height="1"/>
<rect x="876" y="353" width="1" height="1"/>
<rect x="879" y="353" width="1" height="1"/>
<rect x="882" y="353" width="1" height="1"/>
<rect x="885" y="353" width="1" height="1"/>
<rect x="888" y="353" width="1" height="1"/>
<rect x="891" y="353" width="1" height="1"/>
<rect x="894" y="353" width="1" height="1"/>
<rect x="897" y="353" width="1" height="1"/>
<rect x="900" y="353" width="1" height="1"/>
<rect x="903" y="353" width="1" height="1"/>
<rect x="906" y="353" width="1" height="1"/>
<rect x="909" y="353" width="1" height="1"/>
<rect x="912" y="353" width="1" height="1"/>
<rect x="915" y="353" width="1" height="1"/>
<rect x="918" y="353" width="1" height="1"/>
<rect x="921" y="353" width="1" height="1"/>
<rect x="924" y="353" width="1" height="1"/>
<rect x="927" y="353" width="1" height="1"/>
<rect x="930" y="353" width="1" height="1"/>
<rect x="933" y="353" width="1" height="1"/>
<rect x="936" y="353" width="1" height="1"/>
<rect x="939" y="353" width="1" height="1"/>
<rect x="942" y="353" width="1" height="1"/>
<rect x="945" y="353" width="1" height="1"/>
<rect x="948" y="353" width="1" height="1"/>
<rect x="951" y="353" width="1" height="1"/>
<rect x="954" y="353" width="1" height="1"/>
<rect x="957" y="353" width="1" height="1"/>
<rect x="960" y="353" width="1" height="1"/>
<rect x="963" y="353" width="1" height="1"/>
<rect x="966" y="353" width="1" height="1"/>
<rect x="969" y="353" width="1" height="1"/>
<rect x="972" y="353" width="1" height="1"/>
<rect x="975" y="353" width="1" height="1"/>
<rect x="978" y="353" width="1" height="1"/>
<rect x="981" y="353" width="1" height="1"/>
<rect x="984" y="353" width="1" height="1"/>
<rect x="987" y="353" width="1" height="1"/>
<rect x="990" y="353" width="1" height="1"/>
<rect x="993" y="353" width="1" height="1"/>
<rect x="996" y="353" width="1" height="1"/>
<rect x="999" y="353" width="1" height="1"/>
<rect x="1002" y="353" width="1" height="1"/>
<rect x="1005" y="353" width="1" height="1"/>
<rect x="1008" y="353" width="1" height="1"/>
<rect x="1011" y="353" width="1" height="1"/>
<rect x="1014" y="353" width="1" height="1"/>
<rect x="1017" y="353" width="1" height="1"/>
<rect x="1020" y="353" width="1" height="1"/>
<rect x="1023" y="353" width="1" height="1"/>
<rect x="1026" y="353" width="1" height="1"/>
<rect x="1029" y="353" width="1" height="1"/>
<rect x="1032" y="353" width="1" height="1"/>
<rect x="1035" y="353" width="1" height="1"/>
<rect x="1038" y="353" width="1" height="1"/>
<rect x="1041" y="353" width="1" height="1"/>
<rect x="1044" y="353" width="1" height="1"/>
<rect x="1047" y="353" width="1" height="1"/>
<rect x="1050" y="353" width="1" height="1"/>
<rect x="1053" y="353" width="1" height="1"/>
<rect x="1056" y="353" width="1" height="1"/>
<rect x="1059" y="353" width="1" height="1"/>
<rect x="1062" y="353" width="1" height="1"/>
<rect x="1065" y="353" width="1" height="1"/>
<rect x="1068" y="353" width="1" height="1"/>
<rect x="1071" y="353" width="1" height="1"/>
<rect x="1074" y="353" width="1" height="1"/>
<rect x="1077" y="353" width="1" height="1"/>
<rect x="1080" y="353" width="1" height="1"/>
<rect x="1083" y="353" width="1" height="1"/>
<rect x="1086" y="353" width="1" height="1"/>
<rect x="1089" y="353" width="1" height="1"/>
<rect x="1092" y="353" width="1" height="1"/>
<rect x="1095" y="353" width="1" height="1"/>
<rect x="1098" y="353" width="1" height="1"/>
<rect x="1101" y="353" width="1" height="1"/>
<rect x="1104" y="353" width="1" height="1"/>
<rect x="1107" y="353" width="1" height="1"/>
<rect x="1110" y="353" width="1" height="1"/>
<rect x="1113" y="353" width="1" height="1"/>
<rect x="1116" y="353" width="1" height="1"/>
<rect x="1119" y="353" width="1" height="1"/>
<rect x="1122" y="353" width="1" height="1"/>
<rect x="1125" y="353" width="1" height="1"/>
<rect x="1128" y="353" width="1" height="1"/>
<rect x="1131" y="353" width="1" height="1"/>
<rect x="1134" y="353" width="1" height="1"/>
<rect x="1137" y="353" width="1" height="1"/>
<rect x="1140" y="353" width="1" height="1"/>
<rect x="1143" y="353" width="1" height="1"/>
<rect x="1146" y="353" width="1" height="1"/>
<rect x="1149" y="353" width="1" height="1"/>
<rect x="1152" y="353" width="1" height="1"/>
<rect x="1155" y="353" width="1" height="1"/>
<rect x="1158" y="353" width="1" height="1"/>
<rect x="1161" y="353" width="1" height="1"/>
<rect x="1164" y="353" width="1" height="1"/>
<rect x="1167" y="353" width="1" height="1"/>
<rect x="1170" y="353" width="1" height="1"/>
<rect x="1173" y="353" width="1" height="1"/>
<rect x="1176" y="353" width="1" height="1"/>
<rect x="1179" y="353" width="1" height="1"/>
<rect x="1182" y="353" width="1" height="1"/>
<rect x="1185" y="353" width="1" height="1"/>
<rect x="1188" y="353" width="1" height="1"/>
<rect x="1191" y="353" width="1" height="1"/>
<rect x="1194" y="353" width="1" height="1"/>
<rect x="1197" y="353" width="1" height="1"/>
<rect x="1200" y="353" width="1" height="1"/>
<rect x="1203" y="353" width="1" height="1"/>
<rect x="1206" y="353" width="1" height="1"/>
<rect x="1209" y="353" width="1" height="1"/>
<rect x="1212" y="353" width="1" height="1"/>
<rect x="1215" y="353" width="1" height="1"/>
<rect x="1218" y="353" width="1" height="1"/>
<rect x="1221" y="353" width="1" height="1"/>
<rect x="1224" y="353" width="1" height="1"/>
<rect x="1227" y="353" width="1" height="1"/>
<rect x="1230" y="353" width="1" height="1"/>
<rect x="1233" y="353" width="1" height="1"/>
<rect x="1236" y="353" width="1" height="1"/>
<rect x="1239" y="353" width="1" height="1"/>
<rect x="1242" y="353" width="1" height="1"/>
<rect x="1245" y="353" width="1" height="1"/>
<rect x="1248" y="353" width="1" height="1"/>
<rect x="1251" y="353" width="1" height="1"/>
<rect x="1254" y="353" width="1" height="1"/>
<rect x="1257" y="353" width="1" height="1"/>
<rect x="1260" y="353" width="1" height="1"/>
<rect x="1263" y="353" width="1" height="1"/>
<rect x="1266" y="353" width="1" height="1"/>
<rect x="1269" y="353" width="1" height="1"/>
<rect x="1272" y="353" width="1" height="1"/>
<rect x="1275" y="353" width="1" height="1"/>
<rect x="1278" y="353" width="1" height="1"/>
<rect x="1281" y="353" width="1" height="1"/>
<rect x="1284" y="353" width="1" height="1"/>
<rect x="1287" y="353" width="1" height="1"/>
<rect x="1290" y="353" width="1" height="1"/>
<rect x="1293" y="353" width="1" height="1"/>
<rect x="1296" y="353" width="1" height="1"/>
<rect x="1299" y="353" width="1" height="1"/>
<rect x="1302" y="353" width="1" height="1"/>
<rect x="1305" y="353" width="1" height="1"/>
<rect x="1308" y="353" width="1" height="1"/>
<rect x="1311" y="353" width="1" height="1"/>
<rect x="1314" y="353" width="1" height="1"/>
<rect x="1317" y="353" width="1" height="1"/>
<rect x="1320" y="353" width="1" height="1"/>
<rect x="1323" y="353" width="1" height="1"/>
<rect x="1326" y="353" width="1" height="1"/>
<rect x="1329" y="353" width="1" height="1"/>
<rect x="1332" y="353" width="1" height="1"/>
<rect x="1335" y="353" width="1" height="1"/>
<rect x="1338" y="353" width="1" height="1"/>
<rect x="1341" y="353" width="1" height="1"/>
<rect x="1344" y="353" width="1" height="1"/>
<rect x="1347" y="353" width="1" height="1"/>
</g>

<!-- HKEX logo -->
<circle cx="22.6" cy="19" r="11.3" fill="#DD2229"/>
<path d="M20.0 13.2 L22.5 13.2 L22.5 20 Q22.45 23 22.0 25 L17.4 25 Q19.7 21.5 20.0 17 Z" fill="#fff"/>
<path d="M23.5 13.2 L25.2 13.2 Q25.4 21 27.2 25 L23.9 25 Q23.5 23 23.5 20 Z" fill="#fff"/>
<!-- status pill -->
<path d="M375 8 H388.9 V30 H375 A11 11 0 0 1 375 8 Z" fill="rgba(8,153,129,0.13)"/>
<path d="M388.9 8 H403 A11 11 0 0 1 403 30 H388.9 Z" fill="rgba(255,152,0,0.12)"/>
<circle cx="377.95" cy="18.9" r="5.1" fill="#089981"/>
<!-- collapse button -->
<rect x="11.4" y="108.2" width="34.6" height="22.8" rx="3.5" fill="#fff" stroke="#D1D4DC" stroke-width="1.2"/>
<path d="M23.4 122.2 L28.5 117.2 L33.6 122.2" fill="none" stroke="#131722" stroke-width="1.6"/>
<!-- bid / ask boxes -->
<rect x="10.8" y="39.5" width="60.3" height="29" rx="5" fill="#fff" stroke="#F23645" stroke-width="1.25"/>
<rect x="99.4" y="39.5" width="61.1" height="29" rx="5" fill="#fff" stroke="#2962FF" stroke-width="1.25"/>
<!-- TradingView logo -->
<g transform="translate(15.0 637.52) scale(1.054 1.044)">
<g fill="#fff" stroke="#fff" stroke-width="4.4" stroke-linejoin="miter">
<path d="M14 22H7V11H0V4h14v18z"/><circle cx="20" cy="7.5" r="3.55"/><path d="M28.4 22h-8.4l7.5-18h8.4L28.4 22z"/>
</g>
<g fill="#131722">
<path d="M14 22H7V11H0V4h14v18z"/><circle cx="20" cy="7.5" r="3.55"/><path d="M28.4 22h-8.4l7.5-18h8.4L28.4 22z"/>
</g>
</g>
<text x="60.8" y="660.3" font-family="Liberation Sans, sans-serif" font-weight="bold" font-size="25" letter-spacing="0.5" fill="#131722" stroke="#fff" stroke-width="4.6" stroke-linejoin="miter" paint-order="stroke fill">TradingView</text>
<!-- lightning -->
<circle cx="1320.5" cy="661.3" r="14.4" fill="#fff"/>
<circle cx="1320.5" cy="661.3" r="12.4" fill="#fff" stroke="#9120AD" stroke-width="2"/>
<path d="M1324.9 654.6 L1313.9 662.3 L1320.9 661.9 L1316.4 668.5 L1327.0 660.2 L1320.2 660.7 Z" fill="#9120AD"/>
<!-- settings hex -->
<path d="M1372.5 696.2 L1377 688.6 H1386 L1390.5 696.2 L1386 703.8 H1377 Z" fill="none" stroke="#131722" stroke-width="1.5" stroke-linejoin="round"/>
<circle cx="1381.5" cy="696.2" r="2.6" fill="none" stroke="#131722" stroke-width="1.5"/>

</svg>
<div class="t" style="left:1357.45px;top:631.55px;font-size:15px;color:#131722;letter-spacing:-0.43px;">18360</div>
<div class="t" style="left:1357.45px;top:575.55px;font-size:15px;color:#131722;letter-spacing:-0.43px;">18370</div>
<div class="t" style="left:1357.45px;top:519.55px;font-size:15px;color:#131722;letter-spacing:-0.43px;">18380</div>
<div class="t" style="left:1357.45px;top:463.55px;font-size:15px;color:#131722;letter-spacing:-0.43px;">18390</div>
<div class="t" style="left:1357.45px;top:407.55px;font-size:15px;color:#131722;letter-spacing:-0.43px;">18400</div>
<div class="t" style="left:1357.45px;top:295.55px;font-size:15px;color:#131722;letter-spacing:-0.43px;">18420</div>
<div class="t" style="left:1357.45px;top:238.55px;font-size:15px;color:#131722;letter-spacing:-0.43px;">18430</div>
<div class="t" style="left:1357.45px;top:182.55px;font-size:15px;color:#131722;letter-spacing:-0.43px;">18440</div>
<div class="t" style="left:1357.45px;top:126.55px;font-size:15px;color:#131722;letter-spacing:-0.43px;">18450</div>
<div class="t" style="left:1357.45px;top:70.55px;font-size:15px;color:#131722;letter-spacing:-0.43px;">18460</div>
<div class="t" style="left:1357.45px;top:14.55px;font-size:15px;color:#131722;letter-spacing:-0.43px;">18470</div>
<div style="position:absolute;left:1348px;top:343px;width:54px;height:21px;background:#F23645;border-radius:1.5px 0 0 1.5px"></div>
<div style="position:absolute;left:1348px;top:633px;width:40px;height:21px;background:#EF5350;border-radius:0 2px 2px 0"></div>
<div class="t" style="left:38.75px;top:10.45px;font-size:19px;color:#131722;letter-spacing:-0.18px;">Hang Seng Index Futures · 1 · HKEX</div>
<div class="t" style="left:394.32px;top:12.1px;font-size:16px;color:#F57C00;font-weight:bold;">D</div>
<div class="t" style="left:433.4px;top:11.7px;font-size:15px;color:#131722;">O</div>
<div class="t" style="left:447.15px;top:11.7px;font-size:15px;color:#F23645;letter-spacing:-0.08px;">18412</div>
<div class="t" style="left:496.15px;top:11.7px;font-size:15px;color:#131722;">H</div>
<div class="t" style="left:508.85px;top:11.7px;font-size:15px;color:#F23645;letter-spacing:-0.03px;">18412</div>
<div class="t" style="left:558.0px;top:11.7px;font-size:15px;color:#131722;">L</div>
<div class="t" style="left:568.6px;top:11.7px;font-size:15px;color:#F23645;">18408</div>
<div class="t" style="left:617.0px;top:11.7px;font-size:15px;color:#131722;">C</div>
<div class="t" style="left:629.4px;top:11.7px;font-size:15px;color:#F23645;letter-spacing:-0.05px;">18411</div>
<div class="t" style="left:679.1px;top:11.7px;font-size:15px;color:#F23645;letter-spacing:0.28px;">0 (0.00%)</div>
<div class="t" style="left:19.55px;top:47.5px;font-size:16px;color:#F23645;letter-spacing:-0.42px;">18410</div>
<div class="t" style="left:81.65px;top:47.3px;font-size:14.5px;color:#131722;">3</div>
<div class="t" style="left:109.05px;top:47.5px;font-size:16px;color:#2962FF;letter-spacing:-0.48px;">18413</div>
<div class="t" style="left:11.55px;top:81.3px;font-size:15.5px;color:#131722;letter-spacing:-0.05px;">Vol</div>
<div class="t" style="left:43.1px;top:81.6px;font-size:15.5px;color:#EF5350;letter-spacing:0.5px;">116</div>
<div class="t" style="left:56.3px;top:687.6px;font-size:15px;color:#131722;letter-spacing:-0.18px;">02:20</div>
<div class="t" style="left:181.3px;top:687.6px;font-size:15px;color:#131722;letter-spacing:-0.17px;">02:30</div>
<div class="t" style="left:307.3px;top:687.6px;font-size:15px;color:#131722;letter-spacing:-0.18px;">02:40</div>
<div class="t" style="left:433.3px;top:687.6px;font-size:15px;color:#131722;letter-spacing:-0.18px;">02:50</div>
<div class="t" style="left:557.3px;top:687.6px;font-size:15px;color:#131722;letter-spacing:0.43px;font-weight:bold;">03:00</div>
<div class="t" style="left:685.3px;top:687.6px;font-size:15px;color:#131722;letter-spacing:-0.18px;">03:10</div>
<div class="t" style="left:811.3px;top:687.6px;font-size:15px;color:#131722;letter-spacing:-0.18px;">03:20</div>
<div class="t" style="left:937.3px;top:687.6px;font-size:15px;color:#131722;letter-spacing:-0.18px;">03:30</div>
<div class="t" style="left:1063.3px;top:687.6px;font-size:15px;color:#131722;letter-spacing:-0.17px;">03:40</div>
<div class="t" style="left:1189.3px;top:687.6px;font-size:15px;color:#131722;letter-spacing:-0.17px;">03:50</div>
<div style="position:absolute;left:1290px;top:680px;width:58px;height:26px;overflow:hidden"><div class="t" style="left:23.3px;top:7.6px;font-size:15px;color:#131722;letter-spacing:0.42px;font-weight:bold">04:00</div></div>
<div class="t" style="left:1357.9px;top:345.45px;font-size:15px;color:#fff;letter-spacing:-0.5px;-webkit-text-stroke:0.35px #fff;">18411</div>
<div class="t" style="left:1357.9px;top:635.35px;font-size:15px;color:#fff;letter-spacing:0.3px;-webkit-text-stroke:0.35px #fff;">116</div>
</body></html>
